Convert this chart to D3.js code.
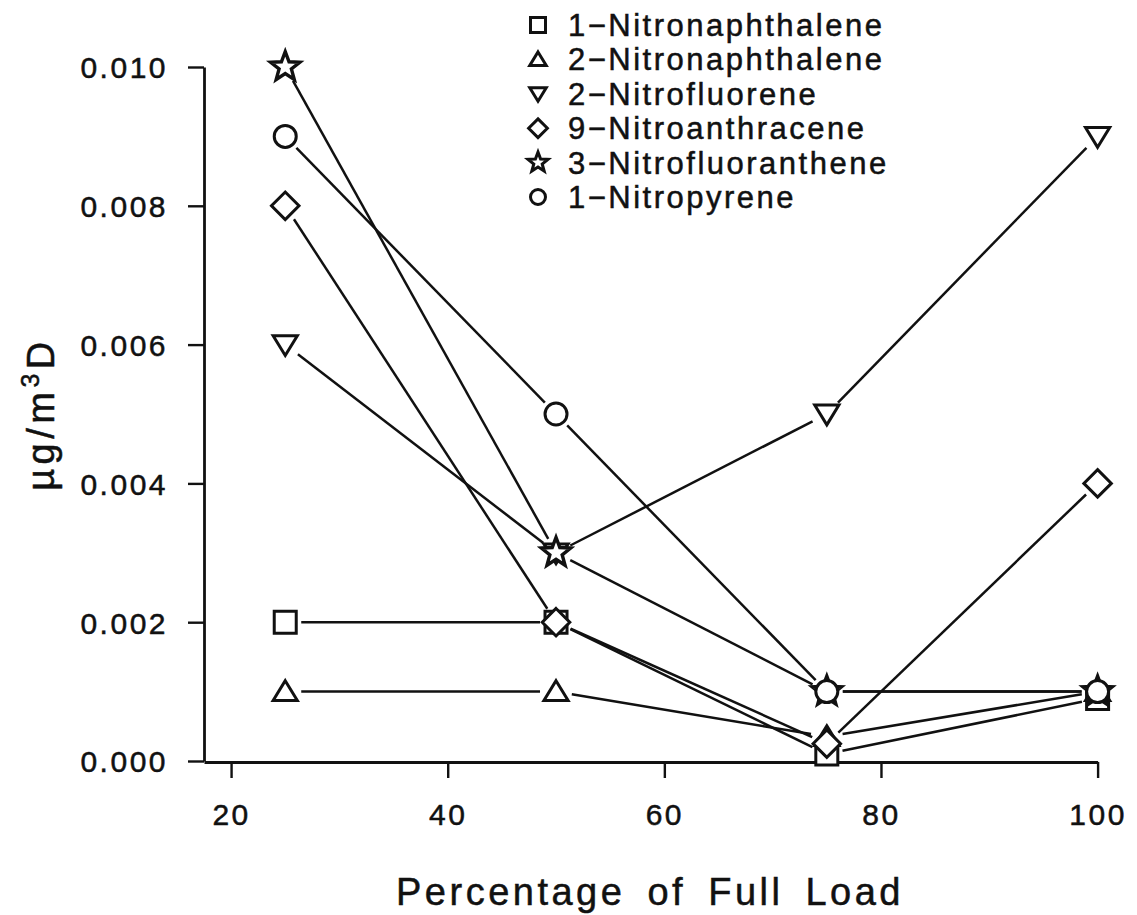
<!DOCTYPE html>
<html>
<head>
<meta charset="utf-8">
<script src="https://cdn.jsdelivr.net/npm/d3@7"></script>
<style>
  html, body { margin: 0; padding: 0; background: #fff; }
  svg { display: block; }
  text {
    font-family: "Liberation Sans", Arial, Helvetica, sans-serif;
    fill: #111; stroke: #111; stroke-width: 0.5px;
  }
</style>
</head>
<body>
<svg id="chart" width="1137" height="915"></svg>
<script>
// Engine load levels (% of full load)
const loads = [25, 50, 75, 100];

// Emission factors, µg/m³ diesel exhaust
const nitronaphthalene1   = [0.002, 0.002, 0.0001, 0.0009];
const nitronaphthalene2   = [0.001, 0.001, 0.00035, 0.001];
const nitrofluorene2      = [0.006, 0.003, 0.005, 0.009];
const nitroanthracene9    = [0.008, 0.002, 0.00025, 0.004];
const nitrofluoranthene3  = [0.010, 0.003, 0.001, 0.001];
const nitropyrene1        = [0.009, 0.005, 0.001, 0.001];

const seriesNames = [
  "1\u2212Nitronaphthalene",
  "2\u2212Nitronaphthalene",
  "2\u2212Nitrofluorene",
  "9\u2212Nitroanthracene",
  "3\u2212Nitrofluoranthene",
  "1\u2212Nitropyrene"
];
const seriesValues = [nitronaphthalene1, nitronaphthalene2, nitrofluorene2,
                      nitroanthracene9, nitrofluoranthene3, nitropyrene1];
const seriesSymbols = ["square", "triangleUp", "triangleDown", "diamond", "star", "circle"];

const xTicks = [20, 40, 60, 80, 100];
const yTicks = [0, 0.002, 0.004, 0.006, 0.008, 0.010];

// ---- symbol shapes (drawn around the origin, r = half-extent) ----
function shape(kind, r) {
  return {
    draw(ctx) {
      if (kind === "square") {
        ctx.rect(-r, -r, 2 * r, 2 * r);
      } else if (kind === "triangleUp") {
        const h = r * 1.8;
        ctx.moveTo(0, -h * 0.55);
        ctx.lineTo(r * 1.1, h * 0.45);
        ctx.lineTo(-r * 1.1, h * 0.45);
        ctx.closePath();
      } else if (kind === "triangleDown") {
        const h = r * 1.8;
        ctx.moveTo(0, h * 0.55);
        ctx.lineTo(r * 1.1, -h * 0.45);
        ctx.lineTo(-r * 1.1, -h * 0.45);
        ctx.closePath();
      } else if (kind === "diamond") {
        const d = r * 1.25;
        ctx.moveTo(0, -d);
        ctx.lineTo(d, 0);
        ctx.lineTo(0, d);
        ctx.lineTo(-d, 0);
        ctx.closePath();
      } else if (kind === "star") {
        const R = r * 1.4, ri = R * 0.42;
        for (let i = 0; i < 10; i++) {
          const a = -Math.PI / 2 + i * Math.PI / 5;
          const rr = i % 2 === 0 ? R : ri;
          const px = rr * Math.cos(a), py = rr * Math.sin(a);
          if (i === 0) ctx.moveTo(px, py); else ctx.lineTo(px, py);
        }
        ctx.closePath();
      } else {
        ctx.moveTo(r, 0);
        ctx.arc(0, 0, r, 0, 2 * Math.PI);
      }
    }
  };
}
function symbolPath(kind, r) {
  return d3.symbol().type(shape(kind, r)).size(1)();
}

const svg = d3.select("#chart");

// plot frame
const plotLeft = 204, plotRight = 1097.6, plotTop = 67, plotBottom = 761;

const x = d3.scaleLinear().domain([17.5, 100]).range([plotLeft, plotRight]);
const y = d3.scaleLinear().domain([0, 0.010]).range([plotBottom, plotTop]);

// ---- axes ----
const axisColor = "#111";
const yAxis = svg.append("g").attr("transform", `translate(${plotLeft},0)`)
  .call(d3.axisLeft(y).tickValues(yTicks).tickFormat(d3.format(".3f"))
        .tickSizeInner(16).tickSizeOuter(0).tickPadding(20));
const xAxis = svg.append("g").attr("transform", `translate(0,${plotBottom + 1})`)
  .call(d3.axisBottom(x).tickValues(xTicks).tickFormat(d3.format("d"))
        .tickSizeInner(16).tickSizeOuter(0).tickPadding(26));

[yAxis, xAxis].forEach(g => {
  g.select(".domain").attr("stroke", axisColor).attr("stroke-width", 2.8);
  g.selectAll(".tick line").attr("stroke", axisColor).attr("stroke-width", 2.4);
  g.selectAll(".tick text")
    .attr("fill", "#111")
    .attr("stroke", "#111")
    .attr("stroke-width", 0.5)
    .style("font-family", "'Liberation Sans', Arial, sans-serif")
    .style("font-size", "30px")
    .style("letter-spacing", "2.5px");
});
yAxis.selectAll(".tick text").attr("dy", "0.36em");

// axis titles
svg.append("text")
  .attr("x", 650).attr("y", 905)
  .attr("text-anchor", "middle")
  .style("font-size", "38px")
  .style("letter-spacing", "3.5px")
  .style("word-spacing", "8px")
  .text("Percentage of Full Load");

const yTitle = svg.append("text")
  .attr("transform", "translate(54,414) rotate(-90)")
  .attr("text-anchor", "middle")
  .style("font-size", "38px")
  .style("letter-spacing", "4.5px");
yTitle.append("tspan").text("\u00B5g/m");
yTitle.append("tspan").attr("dy", -15).style("font-size", "25px").text("3");
yTitle.append("tspan").attr("dy", 15).text("D");

// ---- series lines: segments stop short of each symbol ----
const markerR = { square: 11, triangleUp: 11, triangleDown: 11, diamond: 11, star: 11, circle: 11 };
const gap = 5;
const lineLayer = svg.append("g");
seriesValues.forEach((vals, si) => {
  const kind = seriesSymbols[si];
  const trim = markerR[kind] + gap;
  const pts = loads.map((l, i) => [x(l), y(vals[i])]);
  d3.pairs(pts).forEach(([a, b]) => {
    const dx = b[0] - a[0], dy = b[1] - a[1];
    const len = Math.hypot(dx, dy);
    if (len <= 2 * trim) return;
    const ux = dx / len, uy = dy / len;
    lineLayer.append("line")
      .attr("x1", a[0] + ux * trim).attr("y1", a[1] + uy * trim)
      .attr("x2", b[0] - ux * trim).attr("y2", b[1] - uy * trim)
      .attr("stroke", "#111").attr("stroke-width", 2.5);
  });
});

// ---- symbols ----
const markLayer = svg.append("g");
seriesValues.forEach((vals, si) => {
  const kind = seriesSymbols[si];
  markLayer.selectAll(null)
    .data(loads.map((l, i) => ({ l, v: vals[i] })))
    .join("path")
    .attr("transform", d => `translate(${x(d.l)},${y(d.v)})`)
    .attr("d", symbolPath(kind, markerR[kind]))
    .attr("fill", "#fff")
    .attr("stroke", "#111")
    .attr("stroke-width", kind === "star" ? 3.4 : 3)
    .attr("stroke-linejoin", "miter");
});

// ---- legend ----
const legend = svg.append("g").attr("transform", "translate(538,25)");
seriesNames.forEach((name, i) => {
  const row = legend.append("g").attr("transform", `translate(0,${i * 34.4})`);
  row.append("path")
    .attr("d", symbolPath(seriesSymbols[i], 7.5))
    .attr("fill", "#fff").attr("stroke", "#111").attr("stroke-width", 3);
  row.append("text")
    .attr("x", 30).attr("y", 11)
    .style("font-size", "31px")
    .style("letter-spacing", "2.5px")
    .text(name);
});
</script>
</body>
</html>
